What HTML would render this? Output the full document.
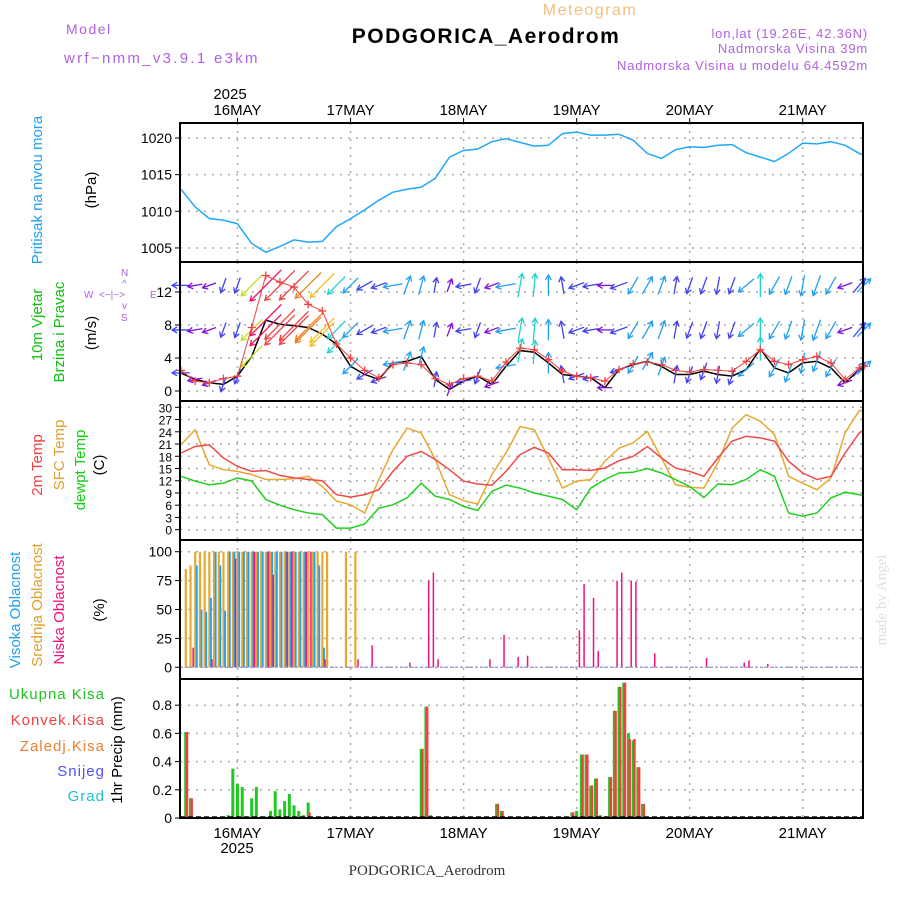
<!DOCTYPE html>
<html><head><meta charset="utf-8"><style>
body{margin:0;background:#fff}
svg{display:block;font-family:"Liberation Sans",sans-serif}
</style></head><body>
<svg id="c" width="900" height="900" xmlns="http://www.w3.org/2000/svg">
<rect width="900" height="900" fill="#fff"/>
<text x="590" y="15" fill="#f0c080" font-size="16" text-anchor="middle" letter-spacing="1.5">Meteogram</text>
<text x="486" y="43" fill="#000" font-size="21" font-weight="bold" text-anchor="middle" letter-spacing="1.5">PODGORICA_Aerodrom</text>
<text x="66" y="34" fill="#b060e0" font-size="14" letter-spacing="1.5">Model</text>
<text x="64" y="63" fill="#b060e0" font-size="15" letter-spacing="2.3">wrf−nmm_v3.9.1 e3km</text>
<text x="868" y="38" fill="#b060e0" font-size="13" text-anchor="end" letter-spacing="0.8">lon,lat (19.26E, 42.36N)</text>
<text x="868" y="53" fill="#b060e0" font-size="13" text-anchor="end" letter-spacing="0.8">Nadmorska Visina 39m</text>
<text x="868" y="70" fill="#b060e0" font-size="13" text-anchor="end" letter-spacing="0.8">Nadmorska Visina u modelu 64.4592m</text>
<text x="230" y="99" font-size="15" text-anchor="middle">2025</text>
<text x="237" y="853" font-size="15" text-anchor="middle">2025</text>
<text x="427" y="875" font-size="15" fill="#333" font-family="Liberation Serif,serif" text-anchor="middle">PODGORICA_Aerodrom</text>
<text transform="translate(886,600) rotate(-90)" font-size="15" fill="#d8e4d8" font-family="Liberation Serif,serif" text-anchor="middle">made by Angel</text>
<g font-size="15">
<text transform="translate(42,190) rotate(-90)" fill="#20a0f0" text-anchor="middle">Pritisak na nivou mora</text>
<text transform="translate(96,190) rotate(-90)" fill="#000" text-anchor="middle">(hPa)</text>
<text transform="translate(42,325) rotate(-90)" fill="#10c010" text-anchor="middle">10m Vjetar</text>
<text transform="translate(64,332) rotate(-90)" fill="#10c010" text-anchor="middle">Brzina i Pravac</text>
<text transform="translate(96,333) rotate(-90)" fill="#000" text-anchor="middle">(m/s)</text>
<g fill="#b060e0" font-size="10"><text x="84" y="298">W</text><text x="99" y="298">&lt;−|−&gt;</text><text x="150" y="298">E</text><text x="121" y="276">N</text><text x="121" y="321">S</text><text x="122" y="287">^</text><text x="122" y="309">v</text></g>
<text transform="translate(42,465) rotate(-90)" fill="#f04040" text-anchor="middle">2m Temp</text>
<text transform="translate(64,455) rotate(-90)" fill="#e0a030" text-anchor="middle">SFC Temp</text>
<text transform="translate(85,470) rotate(-90)" fill="#10d010" text-anchor="middle">dewpt Temp</text>
<text transform="translate(104,465) rotate(-90)" fill="#000" text-anchor="middle">(C)</text>
<text transform="translate(20,610) rotate(-90)" fill="#20a0f0" text-anchor="middle">Visoka Oblacnost</text>
<text transform="translate(42,605) rotate(-90)" fill="#e0a030" text-anchor="middle">Srednja Oblacnost</text>
<text transform="translate(64,610) rotate(-90)" fill="#f0107f" text-anchor="middle">Niska Oblacnost</text>
<text transform="translate(104,610) rotate(-90)" fill="#000" text-anchor="middle">(%)</text>
<text x="105" y="699" fill="#20c020" text-anchor="end" letter-spacing="1">Ukupna Kisa</text>
<text x="105" y="725" fill="#f04040" text-anchor="end" letter-spacing="1">Konvek.Kisa</text>
<text x="105" y="751" fill="#f08030" text-anchor="end" letter-spacing="1">Zaledj.Kisa</text>
<text x="105" y="776" fill="#5050f0" text-anchor="end" letter-spacing="1">Snijeg</text>
<text x="105" y="801" fill="#20c0d0" text-anchor="end" letter-spacing="1">Grad</text>
<text transform="translate(122,750) rotate(-90)" fill="#000" text-anchor="middle">1hr Precip (mm)</text>
</g>
<g id="plot"></g>
</svg>
<script>
const hours=[0,3,6,9,12,15,18,21,24,27,30,33,36,39,42,45,48,51,54,57,60,63,66,69,72,75,78,81,84,87,90,93,96,99,102,105,108,111,114,117,120,123,126,129,132,135,138,141,144,145];
const pressure=[1013.0,1010.6,1009.0,1008.8,1008.3,1005.6,1004.4,1005.2,1006.1,1005.8,1005.9,1007.9,1009.0,1010.2,1011.5,1012.6,1013.0,1013.3,1014.5,1017.4,1018.3,1018.5,1019.5,1019.9,1019.4,1018.9,1019.0,1020.6,1020.8,1020.4,1020.4,1020.5,1019.7,1017.9,1017.2,1018.4,1018.8,1018.7,1019.0,1019.1,1018.0,1017.4,1016.8,1017.9,1019.3,1019.2,1019.5,1019.0,1017.9,1017.7];
const windSpeed=[2.2,1.4,1.0,0.8,1.8,4.2,8.6,8.1,7.9,7.7,6.9,5.7,3.0,2.0,1.4,3.4,3.6,4.2,1.4,0.2,1.2,1.8,0.8,3.0,4.9,4.7,3.4,2.0,1.8,1.6,0.4,2.6,3.2,3.6,3.0,2.0,2.0,2.4,2.0,1.8,2.6,5.1,2.8,2.2,3.4,3.6,2.8,1.0,2.6,2.8];
const windGust=[2.5,1.2,1.0,1.5,1.8,7.7,14.0,13.2,12.6,10.5,9.7,5.7,4.0,2.5,1.6,3.2,3.4,3.2,1.5,0.8,1.5,1.8,1.2,3.5,5.2,5.0,3.8,2.4,1.8,1.6,1.2,2.6,3.3,3.5,3.2,2.5,2.3,2.6,2.5,2.4,3.6,5.0,3.6,3.2,3.8,4.2,3.4,1.4,2.8,3.0];
const windDirTo=[270,260,250,200,200,225,225,225,225,225,225,225,225,240,250,260,20,15,10,20,260,200,250,260,10,5,0,350,250,260,270,250,210,30,20,10,200,200,190,200,230,0,210,200,190,200,210,250,40,45];
const temp2m=[18.8,20.4,20.8,17.6,15.5,14.3,14.5,13.3,12.7,12.3,12.0,8.6,8.0,8.6,9.8,14.3,18.0,19.2,17.2,14.7,11.9,11.2,10.9,14.3,18.4,20.2,18.8,14.7,14.7,14.5,15.1,16.9,18.0,20.4,17.6,15.1,14.3,13.1,17.6,21.7,22.9,22.5,21.7,16.8,13.9,12.3,13.1,18.8,23.7,24.5];
const tempSfc=[20.8,24.5,15.9,14.7,14.3,13.5,12.3,12.3,12.5,13.1,10.6,7.0,6.1,4.1,12.3,19.6,24.9,23.7,17.2,8.6,7.1,6.3,13.5,18.8,25.3,24.5,17.6,10.2,11.9,12.3,16.8,20.0,21.3,24.1,17.6,11.0,10.4,10.2,16.4,24.9,28.2,26.6,23.3,13.1,11.4,9.8,12.7,23.7,29.2,29.0];
const dewpt=[13.1,11.9,11.0,11.4,12.7,11.9,7.4,6.0,4.9,4.1,3.7,0.4,0.4,1.4,5.3,6.1,7.8,11.4,8.2,7.4,5.7,4.7,9.4,10.9,10.2,9.0,8.2,7.4,4.9,10.2,12.3,13.9,14.1,15.0,13.9,12.3,10.6,7.9,11.2,11.0,12.3,14.7,13.1,4.1,3.3,4.1,7.8,9.2,8.6,8.2];
const midHours=[1,2,3,4,5,6,7,8,9,10,11,12,13,14,15,16,17,18,19,20,21,22,23,24,25,26,27,28,29,30,31,35,37];
const midVals=[85,88,100,100,100,100,100,100,100,100,100,100,100,100,100,100,100,100,100,100,100,100,100,100,100,100,100,100,100,100,100,100,100];
const hiHours=[3,4,5,6,7,8,9,10,11,12,13,14,15,16,17,18,19,20,21,22,23,24,25,26,28,29,30];
const hiVals=[88,50,48,60,100,88,49,100,100,100,100,100,100,100,100,100,100,100,100,100,100,100,100,100,100,88,17];
const lowHours=[2,6,11,15,18,19,22,23,26,27,30,37,40,48,52,53,54,65,68,71,73,84,85,87,88,92,93,95,96,100,111,119,120,124];
const lowVals=[17,7,94,100,100,80,100,100,100,100,7,7,19,4,75,82,7,7,28,9,10,32,72,60,14,75,82,75,74,12,8,4,6,3];
const rainHours=[1,2,10,11,12,13,14,15,16,17,18,19,20,21,22,23,24,25,26,27,51,52,53,67,68,83,84,85,86,87,88,89,90,91,92,93,94,95,96,97,98];
const rainTotal=[0.61,0.14,0.02,0.35,0.24,0.22,0.01,0.14,0.22,0.01,0.01,0.05,0.19,0.06,0.12,0.17,0.09,0.05,0.02,0.11,0.49,0.79,0.02,0.10,0.05,0.04,0.05,0.45,0.45,0.23,0.28,0.02,0.01,0.29,0.76,0.93,0.96,0.60,0.55,0.36,0.10];
const rainConv=[0.61,0.14,0,0,0,0,0,0,0,0,0,0,0,0,0,0,0,0,0,0.04,0.49,0.79,0.01,0.10,0.05,0.04,0.01,0.45,0.45,0.23,0.28,0.01,0.01,0.29,0.76,0.93,0.96,0.56,0.56,0.36,0.10];
const dayLabels=["16MAY","17MAY","18MAY","19MAY","20MAY","21MAY"];
const dayHours=[12,36,60,84,108,132];
const pTicks=[1005,1010,1015,1020];
const wTicks=[0,4,8,12];
const tTicks=[0,3,6,9,12,15,18,21,24,27,30];
const cTicks=[0,25,50,75,100];
const rTicks=[0,0.2,0.4,0.6,0.8];

const X0=180,X1=863;
const xh=h=>181+h*4.71;
const yP=p=>138+(1020-p)*7.33;
const yW=s=>391-s*8.25;
const yT=t=>529.7-t*4.08;
const yC=c=>667.3-c*1.156;
const yR=v=>818-v*141;
const NS="http://www.w3.org/2000/svg";
const plot=document.getElementById('plot');
function el(tag,attrs,parent){const e=document.createElementNS(NS,tag);for(const k in attrs)e.setAttribute(k,attrs[k]);(parent||plot).appendChild(e);return e;}
const panels=[[123,262,'pressure-panel'],[262,401,'wind-panel'],[401,540,'temperature-panel'],[540,679,'cloud-panel'],[679,818,'precip-panel']];
function hgrid(vals,fy,top,bot,fmt,fs){
  vals.forEach(v=>{const y=fy(v);
    if(y>top+3&&y<bot-2){const g=el('line',{x1:X0,x2:X1,y1:y,y2:y,stroke:'#aaa','stroke-width':1.5,'stroke-dasharray':'2,6'});
    
    }
    const tk=el('line',{x1:X0-5,x2:X0,y1:y,y2:y,stroke:'#000'});
    
    
    const t=el('text',{x:X0-8,y:y+5,'font-size':fs||14,'text-anchor':'end'});
    
    
    t.textContent=fmt?fmt(v):v;});
}
panels.forEach(p=>{dayHours.forEach(h=>{const g=el('line',{x1:xh(h),x2:xh(h),y1:p[0],y2:p[1],stroke:'#aaa','stroke-width':1.5,'stroke-dasharray':'2,6'});

});});
hgrid(pTicks,yP,123,262);
hgrid(wTicks,yW,262,401);
hgrid(tTicks,yT,401,540,null,12);
hgrid(cTicks,yC,540,679);
hgrid(rTicks,yR,679,818,v=>v===0?'0':v.toFixed(1));
dayHours.forEach((h,i)=>{
  const a=el('text',{x:xh(h),y:115,'font-size':15,'text-anchor':'middle'});a.textContent=dayLabels[i];
  
  
  const b=el('text',{x:xh(h),y:838,'font-size':15,'text-anchor':'middle'});b.textContent=dayLabels[i];
  
  
  const t1=el('line',{x1:xh(h),x2:xh(h),y1:118,y2:123,stroke:'#000'});
  
  
});
function line(arr,fy,color,name){
  const d=arr.map((v,i)=>(i?'L':'M')+xh(hours[i]).toFixed(1)+','+fy(v).toFixed(1)).join('');
  const p=el('path',{d:d,fill:'none',stroke:color,'stroke-width':1.5});
  
  
}
line(pressure,yP,'#20a8f8','pressure-line');
line(tempSfc,yT,'#e8a830','sfc-temp-line');
line(temp2m,yT,'#f04848','temp-2m-line');
line(dewpt,yT,'#20d020','dewpoint-line');
function wcol(s){const c=['#8010e0','#4040f0','#20a0f0','#20d0d0','#20d020','#c0e020','#f0c020','#f08020','#f04040','#f01060'];return c[Math.min(9,Math.floor(s/1.5))];}
line(windSpeed,yW,'#000','wind-speed-line');
windDirTo.forEach((d,i)=>{
  const x=xh(hours[i]);const s=windGust[i];const L=12+Math.min(s,14)*2.3;
  const a=d*Math.PI/180;const dx=Math.sin(a)*L,dy=-Math.cos(a)*L;
  [yW(12.8),yW(7.4),yW(windSpeed[i])].forEach((y0,r)=>{
    const x0=x-dx/2,yy=y0-dy/2,x1=x+dx/2,y1=y0+dy/2;
    const g=el('g',{stroke:wcol(s),'stroke-width':1.3,fill:'none'});
    
    
    el('line',{x1:x0,y1:yy,x2:x1,y2:y1},g);
    const ux=dx/L,uy=dy/L;
    el('path',{d:`M${x1-ux*5-uy*3},${y1-uy*5+ux*3}L${x1},${y1}L${x1-ux*5+uy*3},${y1-uy*5-ux*3}`},g);
  });
});
windGust.forEach((g,i)=>{const x=xh(hours[i]),y=yW(g);
  const p=el('path',{d:`M${x-4},${y}h8M${x},${y-4}v8`,stroke:'#f04040','stroke-width':1.3});
  
  });
const gp=el('path',{d:windGust.map((v,i)=>(i?'L':'M')+xh(hours[i])+','+yW(v)).join(''),fill:'none',stroke:'#f04040','stroke-width':1});


function bars(hs,vs,fy,base,color,off,w,name){hs.forEach((h,i)=>{const y=fy(vs[i]);
  const r=el('rect',{x:xh(h)+off,y:y,width:w,height:Math.max(0,base-y),fill:color});
  
  });}
bars(midHours,midVals,yC,yC(0),'#e8a830',-1,2.2,'mid-cloud-bar');
bars(hiHours,hiVals,yC,yC(0),'#20a0f0',0.8,1.8,'high-cloud-bar');
bars(lowHours,lowVals,yC,yC(0),'#f01080',2,1.5,'low-cloud-bar');
const cb=el('line',{x1:X0,x2:X1,y1:yC(0),y2:yC(0),stroke:'#a0a0d0','stroke-width':1.5,'stroke-dasharray':'3,2'});


bars(rainHours,rainTotal,yR,818,'#20c820',-1.5,3,'total-rain-bar');
bars(rainHours,rainConv,yR,818,'#f04040',0,2.5,'conv-rain-bar');
const rb=el('line',{x1:X0,x2:X1,y1:817,y2:817,stroke:'#000','stroke-width':1.5,'stroke-dasharray':'5,3'});


panels.forEach(p=>{const r=el('rect',{x:X0,y:p[0],width:X1-X0,height:p[1]-p[0],fill:'none',stroke:'#000','stroke-width':2});

});
</script>
</body></html>
